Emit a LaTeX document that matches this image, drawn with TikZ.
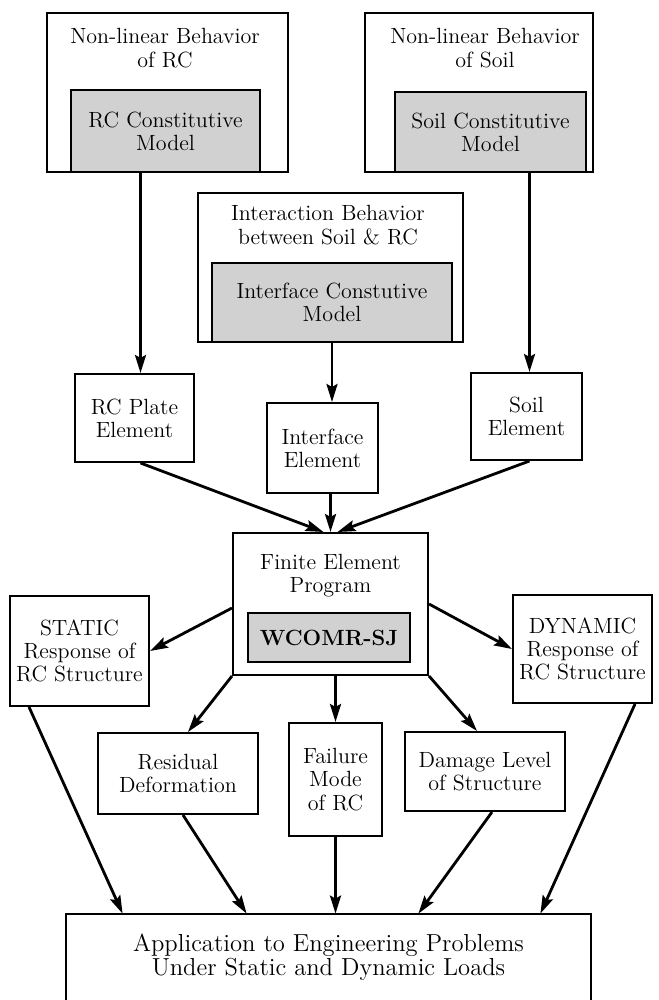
\documentclass[tikz,border=0pt]{standalone}
\usepackage{tikz}
\usetikzlibrary{arrows.meta}

\begin{document}
\begin{tikzpicture}[x=0.5pt,y=-0.5pt,
    box/.style={draw, line width=1pt, inner sep=0pt, align=center,
      font=\fontsize{11}{11.6}\selectfont},
    shadebox/.style={box, fill=black!18},
    txt/.style={inner sep=0pt, align=center, font=\fontsize{11}{11.6}\selectfont},
    arr/.style={-{Stealth[length=9pt,width=5.5pt,inset=1.5pt]}, line width=1.4pt}]
  \useasboundingbox (0,0) rectangle (658,1000);
  % behaviour and constitutive models
  \node[box, minimum width=120.5pt, minimum height=79.5pt] (rcb) at (167.5,92.5) {};
  \node[txt] (rcbt) at (165,48) {Non-linear Behavior\\of RC};
  \node[shadebox, minimum width=94.5pt, minimum height=41pt] (rcm) at (165.5,131) {RC Constitutive\\Model};
  \node[box, minimum width=114pt, minimum height=79.5pt] (sb) at (479,92.5) {};
  \node[txt] (sbt) at (485,48) {Non-linear Behavior\\of Soil};
  \node[shadebox, minimum width=95.5pt, minimum height=40pt] (sm) at (490.5,132) {Soil Constitutive\\Model};
  \node[box, minimum width=132.5pt, minimum height=74.5pt] (ib) at (330.5,267.5) {};
  \node[txt] (ibt) at (328,225) {Interaction Behavior\\between Soil \& RC};
  \node[shadebox, minimum width=120pt, minimum height=39.5pt] (im) at (332,302.5) {Interface Constutive\\Model};
  % elements
  \node[box, minimum width=59.5pt, minimum height=44pt] (rcp) at (134.5,418) {RC Plate\\Element};
  \node[box, minimum width=55.5pt, minimum height=45pt] (ie) at (322.5,448) {Interface\\Element};
  \node[box, minimum width=55.5pt, minimum height=43.5pt] (se) at (526.5,416.5) {Soil\\Element};
  % program
  \node[box, minimum width=97.5pt, minimum height=71pt] (fe) at (330.5,604) {};
  \node[txt] (fet) at (330.5,576) {Finite Element\\Program};
  \node[shadebox, minimum width=81pt, minimum height=24.5pt,
    font=\fontsize{11}{12}\selectfont\bfseries] (wc) at (329,637.5) {WCOMR-SJ};
  % results
  \node[box, minimum width=69.5pt, minimum height=55pt] (st) at (79.5,651) {STATIC\\Response of\\RC Structure};
  \node[box, minimum width=69.5pt, minimum height=54pt] (dy) at (582.5,649) {DYNAMIC\\Response of\\RC Structure};
  \node[box, minimum width=80pt, minimum height=40.5pt] (rd) at (178,773.5) {Residual\\Deformation};
  \node[box, minimum width=46.5pt, minimum height=56.5pt] (fm) at (335.5,779.5) {Failure\\Mode\\of RC};
  \node[box, minimum width=80pt, minimum height=39.5pt] (dl) at (485,771.5) {Damage Level\\of Structure};
  \node[txt, minimum width=262.5pt, minimum height=43pt,
    font=\fontsize{12.3}{11.8}\selectfont] (ap) at (328.5,957) {Application to Engineering Problems\\Under Static and Dynamic Loads};
  \draw[line width=1pt] (ap.south west) -- (ap.north west) -- (ap.north east) -- (ap.south east);
  % arrows
  \draw[arr] ([xshift=3pt]rcp.north |- rcm.south) -- ([xshift=3pt]rcp.north);
  \draw[arr] ([xshift=1.5pt]se.north |- sm.south) -- ([xshift=1.5pt]se.north);
  \draw[arr] (im.south) -- (im.south |- ie.north);
  \draw[arr] ([xshift=3pt]rcp.south) -- ([xshift=-3.5pt]fe.north);
  \draw[arr] (fe.north |- ie.south) -- (fe.north);
  \draw[arr] ([xshift=1.5pt]se.south) -- ([xshift=3.5pt]fe.north);
  \draw[arr] ([yshift=-2pt]fe.west) -- (st.east);
  \draw[arr] (fe.east) -- (dy.west);
  \draw[arr] (fe.south west) -- ([xshift=5pt]rd.north);
  \draw[arr] (fm.north |- fe.south) -- (fm.north);
  \draw[arr] (fe.south east) -- ([xshift=-4pt]dl.north);
  \draw[arr] ([xshift=10pt]st.south west) -- ([xshift=28.5pt]ap.north west);
  \draw[arr] ([xshift=2.5pt]rd.south) -- ([xshift=90.5pt]ap.north west);
  \draw[arr] (fm.south) -- (fm.south |- ap.north);
  \draw[arr] ([xshift=3.5pt]dl.south) -- ([xshift=-86.5pt]ap.north east);
  \draw[arr] ([xshift=-9pt]dy.south east) -- ([xshift=-25.5pt]ap.north east);
\end{tikzpicture}
\end{document}
